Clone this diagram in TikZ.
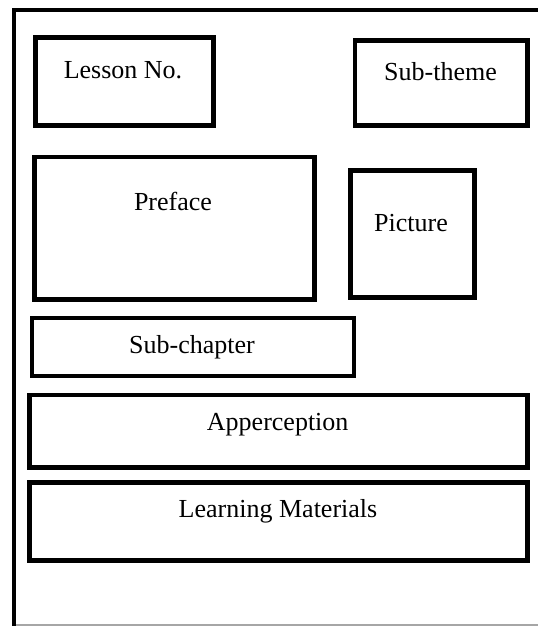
\documentclass[tikz,border=0pt]{standalone}
\usepackage{fontspec}
\setmainfont{Liberation Serif}
\begin{document}
\begin{tikzpicture}[x=0.75pt,y=-0.75pt,
  box/.style={draw=black,line width=3.5pt,rectangle,inner sep=0pt,fill=white},
  lbl/.style={anchor=base,inner sep=0pt,font=\fontsize{19.5pt}{22pt}\selectfont},
  frame/.style={line width=3pt,line cap=rect}]
\useasboundingbox (0,0) rectangle (538,626);
\fill[white] (0,0) rectangle (538,626);
% outer frame
\coordinate (ftl) at (14,10);
\coordinate (ftr) at (538,10);
\coordinate (fbl) at (14,626);
\coordinate (gbl) at (14,625);
\coordinate (gbr) at (538,625);
\draw[gray!70,line width=1pt] (gbl) -- (gbr);
\draw[frame] (fbl) -- (ftl) -- (ftr);
% boxes
\node[box,minimum width=133.5pt,minimum height=66pt] (lesson) at (124.5,81.5) {};
\node[box,minimum width=129.375pt,minimum height=63.75pt] (subtheme) at (441.25,83) {};
\node[box,minimum width=210pt,minimum height=106.875pt] (preface) at (174.5,228.25) {};
\node[box,minimum width=93pt,minimum height=95.25pt] (picture) at (412.5,234) {};
\node[box,minimum width=241.5pt,minimum height=43.5pt] (subchapter) at (193,347) {};
\node[box,minimum width=373.5pt,minimum height=54.375pt] (apper) at (278.5,431.25) {};
\node[box,minimum width=373.5pt,minimum height=58.5pt] (learning) at (278.5,521.5) {};
% labels
\node[lbl] (lessonT) at (123,78) {Lesson No.};
\node[lbl] (subthemeT) at (440.5,80) {Sub-theme};
\node[lbl] (prefaceT) at (173,210.5) {Preface};
\node[lbl] (pictureT) at (411,231.5) {Picture};
\node[lbl] (subchapterT) at (192,353) {Sub-chapter};
\node[lbl] (apperT) at (277.7,430) {Apperception};
\node[lbl] (learningT) at (278,517) {Learning Materials};
\end{tikzpicture}
\end{document}
